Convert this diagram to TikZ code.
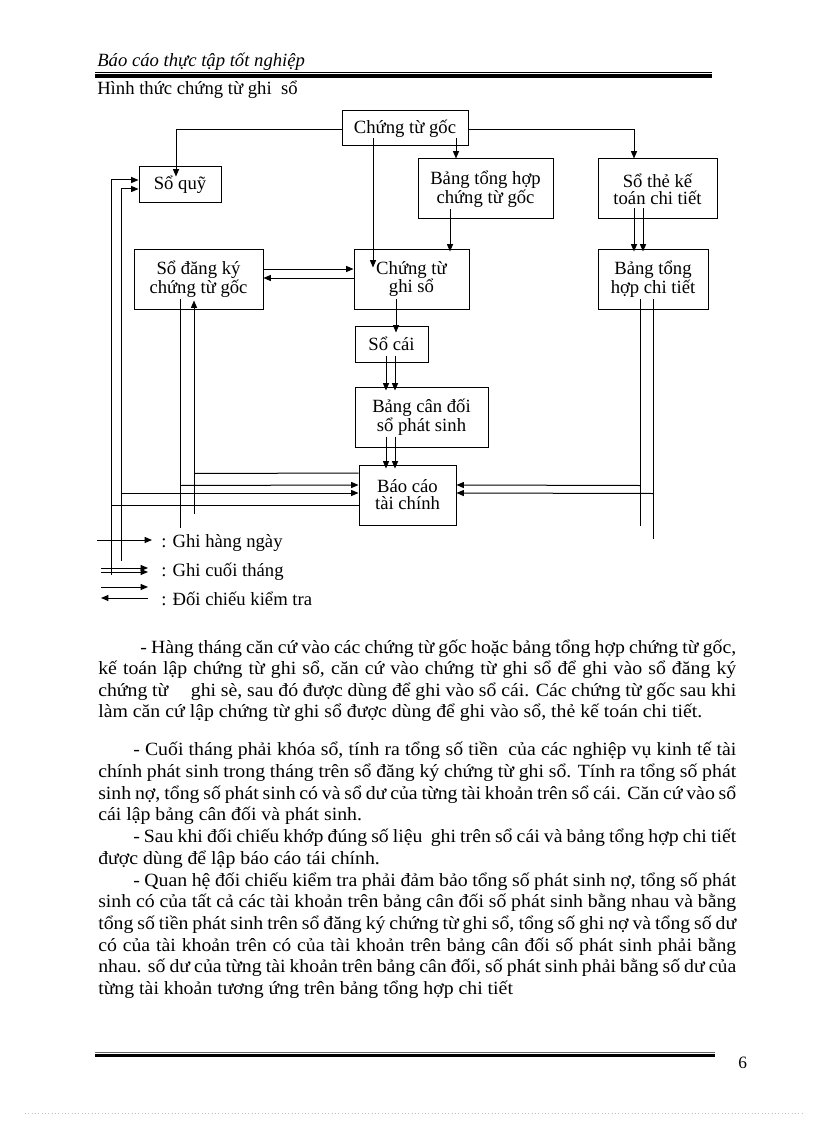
\documentclass[tikz,border=0pt]{standalone}
\usepackage{fontspec}
\setmainfont{Liberation Serif}
\newfontfamily\bodyfont[FakeStretch=1.06]{Liberation Serif}
\usetikzlibrary{arrows.meta,calc}
\newcommand\spreadline[2]{\makebox[#1][s]{#2}}
\begin{document}
\begin{tikzpicture}[x=0.75pt,y=-0.75pt,
  box/.style={draw,line width=0.75pt,inner sep=0pt,align=center,font=\fontsize{14}{12.75}\selectfont},
  ln/.style={line width=0.75pt},
  arr/.style={line width=0.75pt,-{Triangle[length=5.5pt,width=4.5pt]}},
  body/.style={anchor=base west,inner sep=0pt,font=\bodyfont\fontsize{14}{16}\selectfont},
  legend/.style={anchor=base west,inner sep=0pt,font=\fontsize{14}{16}\selectfont},
]
\useasboundingbox (0,0) rectangle (816,1123);
\fill[white] (0,0) rectangle (816,1123);

% header
\node[legend,font=\fontsize{14}{16}\selectfont\itshape] (hdr) at (97,67) {Báo cáo thực tập tốt nghiệp};
\coordinate (hl1) at (95,72.5); \coordinate (hr1) at (712,72.5);
\coordinate (hl2) at (95,76); \coordinate (hr2) at (712,76);
\draw[line width=0.75pt] (hl1) -- (hr1);
\draw[line width=2.4pt] (hl2) -- (hr2);
\node[legend] (title) at (97,95) {Hình thức chứng từ ghi\ \ sổ};

% boxes
\node[box,minimum width=94.5pt,minimum height=26.25pt] (cg) at (405,128.5) {Chứng từ gốc};
\node[box,minimum width=61.5pt,minimum height=27pt] (sq) at (180,185) {Sổ quỹ};
\node[box,minimum width=101.25pt,minimum height=45pt] (bth) at (485.5,189) {Bảng tổng hợp\\chứng từ gốc};
\node[box,minimum width=89.25pt,minimum height=45pt] (st) at (657.5,189) {Sổ thẻ kế\\toán chi tiết};
\node[box,minimum width=96.75pt,minimum height=45pt] (sdk) at (198.5,279) {Sổ đăng ký\\chứng từ gốc};
\node[box,minimum width=86.25pt,minimum height=45pt] (ctgs) at (411.5,279) {Chứng từ\\ghi sổ};
\node[box,minimum width=82.5pt,minimum height=45pt] (bthct) at (653,279) {Bảng tổng\\hợp chi tiết};
\node[box,minimum width=54.75pt,minimum height=27pt] (sc) at (391.5,344) {Sổ cái};
\node[box,minimum width=99.75pt,minimum height=45pt] (bcd) at (421.5,417) {Bảng cân đối\\sổ phát sinh};
\node[box,minimum width=72.75pt,minimum height=45pt] (bctc) at (407.5,495) {Báo cáo\\tài chính};

% connectors from Chung tu goc
\draw[arr] ($(cg.west)+(0,1.5)$) -| ($(sq.north)+(-4,10)$);
\draw[arr] ($(cg.south)+(-32,-8)$) -- ($(ctgs.north)+(-38.5,19)$);
\draw[arr] ($(cg.south)+(51,-8)$) -- ($(bth.north)+(-29.5,0)$);
\draw[arr] ($(cg.east)+(0,1.5)$) -| ($(st.north)+(-23.5,0)$);
\draw[arr] ($(bth.south)+(-35.5,-10)$) -- ($(ctgs.north)+(38.5,3)$);
\draw[arr] ($(st.south)+(-23.5,-11)$) -- ($(bthct.north)+(-19,3)$);
\draw[arr] ($(st.south)+(-14.5,-11)$) -- ($(bthct.north)+(-10,3)$);

% right verticals to Bao cao tai chinh
\draw[ln] ($(bthct.south)+(-13,-11)$) -- ++(0,227);
\draw[ln] ($(bthct.south)+(0,-11)$) -- ++(0,240);
\draw[arr] ($(bthct.south)+(-13,176)$) -- ($(bctc.east)+(0,-10)$);
\draw[arr] ($(bthct.south)+(0,184)$) -- ($(bctc.east)+(0,-2)$);

% So dang ky <-> Chung tu ghi so
\draw[arr] ($(sdk.east)+(0,-10)$) -- ($(ctgs.west)+(0,-10)$);
\draw[arr] ($(ctgs.west)+(0,-1)$) -- ($(sdk.east)+(0,-1)$);

% central column
\draw[arr] ($(ctgs.south)+(-15.5,-11)$) -- ($(sc.north)+(4.5,7)$);
\draw[arr] ($(sc.south)+(-5.5,-7)$) -- ($(bcd.north)+(-35.5,4)$);
\draw[arr] ($(sc.south)+(3.5,-7)$) -- ($(bcd.north)+(-26.5,4)$);
\draw[arr] ($(bcd.south)+(-35.5,-11)$) -- ($(bctc.north)+(-21.5,4)$);
\draw[arr] ($(bcd.south)+(-26.5,-11)$) -- ($(bctc.north)+(-12.5,4)$);

% So dang ky lines
\draw[ln] ($(sdk.south)+(-18.5,-11)$) -- ++(0,229);
\draw[arr] ($(sdk.south)+(-18.5,176)$) -- ($(bctc.west)+(0,-10)$);
\draw[arr] ($(sdk.south)+(-4.5,204)$) -- ($(sdk.south)+(-4.5,-9)$);
\draw[ln] ($(sdk.south)+(-4.5,164)$) -- ($(bctc.west)+(0,-22)$);

% left verticals
\draw[arr] ($(sq.west)+(-27,390)$) |- ($(sq.west)+(0,-5)$);
\draw[arr] ($(sq.west)+(-17,376)$) |- ($(sq.west)+(0,4)$);
\draw[arr] ($(sq.west)+(-17,308)$) -- ($(bctc.west)+(0,-2)$);
\draw[ln] ($(sq.west)+(-27,320)$) -- ($(bctc.west)+(0,10)$);

% legend
\coordinate (la1) at (97,540); \coordinate (lb1) at (152,540);
\draw[arr] (la1) -- (lb1);
\node[legend] (t1) at (161,547) {: Ghi hàng ngày};
\coordinate (la2) at (101,568); \coordinate (lb2) at (148,568);
\coordinate (la3) at (101,572); \coordinate (lb3) at (148,572);
\draw[arr] (la2) -- (lb2);
\draw[arr] (la3) -- (lb3);
\node[legend] (t2) at (161,576) {: Ghi cuối tháng};
\coordinate (la4) at (101,587); \coordinate (lb4) at (148,587);
\coordinate (la5) at (148,598); \coordinate (lb5) at (101,598);
\draw[arr] (la4) -- (lb4);
\draw[arr] (la5) -- (lb5);
\node[legend] (t3) at (161,605) {: Đối chiếu kiểm tra};

% paragraph 1
\node[body] (p1a) at (140,653) {\spreadline{447pt}{- Hàng tháng căn cứ vào các chứng từ gốc hoặc bảng tổng hợp chứng từ gốc,}};
\node[body] (p1b) at (98,674.5) {\spreadline{478.5pt}{kế toán lập chứng từ ghi sổ, căn cứ vào chứng từ ghi sổ để ghi vào sổ đăng ký}};
\node[body] (p1c) at (98,696) {\spreadline{478.5pt}{chứng từ\hspace{1.2em}ghi sè, sau đó được dùng để ghi vào sổ cái. Các chứng từ gốc sau khi}};
\node[body] (p1d) at (98,717) {làm căn cứ lập chứng từ ghi sổ được dùng để ghi vào sổ, thẻ kế toán chi tiết.};

% paragraph 2
\node[body] (p2a) at (133,755) {\spreadline{452.25pt}{- Cuối tháng phải khóa sổ, tính ra tổng số tiền\ \ của các nghiệp vụ kinh tế tài}};
\node[body] (p2b) at (98,777) {\spreadline{478.5pt}{chính phát sinh trong tháng trên sổ đăng ký chứng từ ghi sổ. Tính ra tổng số phát}};
\node[body] (p2c) at (98,799) {\spreadline{478.5pt}{sinh nợ, tổng số phát sinh có và sổ dư của từng tài khoản trên sổ cái. Căn cứ vào sổ}};
\node[body] (p2d) at (98,820) {cái lập bảng cân đối và phát sinh.};

% paragraph 3
\node[body] (p3a) at (133,842) {\spreadline{452.25pt}{- Sau khi đối chiếu khớp đúng số liệu\ \ ghi trên sổ cái và bảng tổng hợp chi tiết}};
\node[body] (p3b) at (98,864) {được dùng để lập báo cáo tái chính.};

% paragraph 4
\node[body] (p4a) at (133,886) {\spreadline{452.25pt}{- Quan hệ đối chiếu kiểm tra phải đảm bảo tổng số phát sinh nợ, tổng số phát}};
\node[body] (p4b) at (98,907.5) {\spreadline{478.5pt}{sinh có của tất cả các tài khoản trên bảng cân đối số phát sinh bằng nhau và bằng}};
\node[body] (p4c) at (98,929) {\spreadline{478.5pt}{tổng số tiền phát sinh trên sổ đăng ký chứng từ ghi sổ, tổng số ghi nợ và tổng số dư}};
\node[body] (p4d) at (98,951) {\spreadline{478.5pt}{có của tài khoản trên có của tài khoản trên bảng cân đối số phát sinh phải bằng}};
\node[body] (p4e) at (98,972.5) {\spreadline{478.5pt}{nhau. số dư của từng tài khoản trên bảng cân đối, số phát sinh phải bằng số dư của}};
\node[body] (p4f) at (98,994) {từng tài khoản tương ứng trên bảng tổng hợp chi tiết};

% footer
\coordinate (fl1) at (95,1052); \coordinate (fr1) at (715,1052);
\coordinate (fl2) at (95,1055.5); \coordinate (fr2) at (715,1055.5);
\draw[line width=0.75pt,black!60] (fl1) -- (fr1);
\draw[line width=2.4pt] (fl2) -- (fr2);
\node[legend,font=\fontsize{13}{15}\selectfont] (pg) at (738,1068) {6};
\coordinate (dl) at (25,1113); \coordinate (dr) at (805,1113);
\draw[black!25,line width=0.5pt,dotted] (dl) -- (dr);
\end{tikzpicture}
\end{document}
